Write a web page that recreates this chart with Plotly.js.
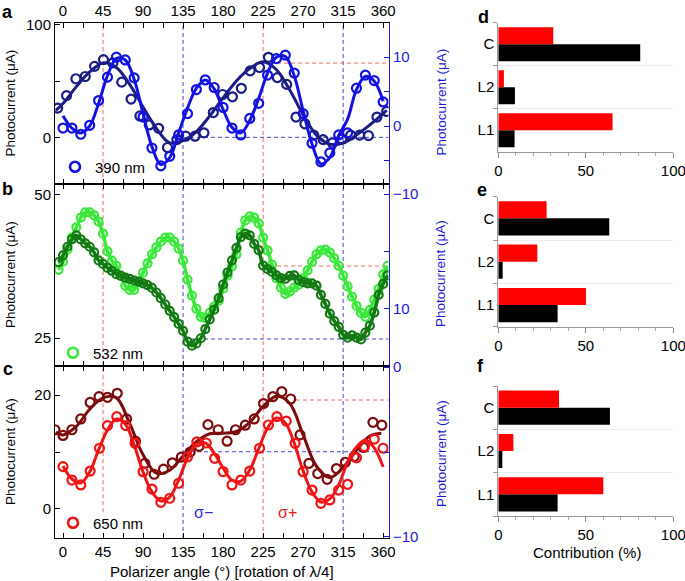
<!DOCTYPE html>
<html><head><meta charset="utf-8">
<script src="https://cdn.plot.ly/plotly-3.0.1.min.js"></script>
<style>html,body{margin:0;padding:0;background:#fff}#chart{width:685px;height:581px}</style>
</head><body><div id="chart"></div>
<script>
// ---------- shared angle ticks ----------
const angleTicks = [0,22.5,45,67.5,90,112.5,135,157.5,180,202.5,225,247.5,270,292.5,315,337.5,360];
const angleLabels = ['0','','45','','90','','135','','180','','225','','270','','315','','360'];

// ---------- panel a : 390 nm ----------
const aNavyX = [-6,4,14.5,25,35.5,45.5,56,66,76.5,86.5,97,107.5,117.5,128,138,148.5,158.5,169,179.5,190.5,200.5,210.5,221,231,241,251.5,262,272,282,292.5,303,313.5,323.5,333.5,343.5,353,364];
const aNavyY = [26,37,52,54,63,69,66,49,34,19,11,8,-9,-2,1,1,4,22,38,36,43.5,59,62,71,53,47,18,12,2,-2,-5,-1.5,2,2,1.5,18,23];
const aNavyFitX = [-8,0,15,30,45,60,75,90,105,120,135,150,165,180,195,210,225,240,255,270,285,300,315,330,345,360,364];
const aNavyFitY = [24,30,45,58,66,62,47,27,8,-5,-3,5,19,35,50,61,67,60,42,20,2,-6,-5,2,11,21,24];
const aBlueX = [0,10,20,30,40,50,60,70,80,90,100,110,120,130,140,150,160,170,180,190,200,210,220,230,240,250,260,270,280,290,300,310,320,330,340,350,360];
const aBlueY = [-0.3,-0.3,-1.2,0.1,3.7,7.1,10.0,9.6,7.0,1.3,-3.2,-5.8,-4.4,-1.3,1.8,5.3,6.7,5.6,2.7,-0.3,-1.3,1.1,3.3,7.4,9.8,10.3,7.7,1.8,-2.5,-5.2,-3.9,-1.3,-1.0,5.5,7.4,6.6,3.5];
const aBlueFitY = [1.5,-0.3,-1.0,0.0,3.3,7.3,9.8,9.6,6.8,1.8,-3.0,-5.6,-4.6,-1.0,2.6,5.5,6.7,5.4,2.4,-0.2,-1.0,0.8,4.0,7.7,10.0,10.1,7.3,2.2,-2.6,-5.5,-4.6,-1.4,1.0,5.3,7.2,6.5,3.6];

// ---------- panel b : 532 nm ----------
const bX = [-5,0,5,10,15,20,25,30,35,40,45,50,55,60,65,70,75,80,85,90,95,100,105,110,115,120,125,130,135,140,145,150,155,160,165,170,175,180,185,190,195,200,205,210,215,220,225,230,235,240,245,250,255,260,265,270,275,280,285,290,295,300,305,310,315,320,325,330,335,340,345,350,355,360,365];
const bLightY = [36.9,38.3,40.4,42.5,44.3,46.0,46.9,46.9,46.4,45.3,43.2,40.1,38.5,37.6,35.9,34.1,33.4,33.4,34.8,36.4,38.0,39.6,40.8,41.8,42.5,42.5,41.8,40.6,38.5,35.2,32.4,30.1,28.7,28.5,29.4,30.5,31.5,33.6,35.9,37.5,39.6,43.4,45.5,46.2,46.0,45.0,42.5,40.3,37.8,35.4,33.8,32.7,33.1,33.8,34.3,35.4,36.8,38.3,39.6,40.3,40.4,39.9,38.9,37.6,35.9,34.0,32.2,30.6,29.4,28.7,29.9,31.7,33.6,36.1,37.6];
const bDarkY = [1.9,0.7,-0.8,-2.1,-2.8,-2.1,-1.4,-0.8,0.2,1.6,2.2,2.9,3.4,4.0,4.3,4.6,4.8,5.1,5.3,5.6,5.9,6.4,7.2,8.2,9.3,10.4,11.5,12.7,13.9,15.8,16.5,16.1,15.2,13.6,11.9,10.2,8.2,5.8,3.7,1.6,-0.6,-2.5,-3.1,-2.8,-1.3,-0.2,2.5,3.1,3.6,4.2,4.7,4.8,4.3,4.2,5.0,5.4,5.6,5.6,6.0,7.6,9.2,10.9,12.2,13.2,14.6,15.1,14.7,15.1,15.4,14.2,13.0,10.7,7.6,5.7,4.2];

// ---------- panel c : 650 nm ----------
const cDarkX = [-9,0,10,20,30.5,40.5,50,61,71.5,81.5,92,102.5,113,123,133,143,153,163,174.5,184.5,194,205,215,225.5,236,246,256,266.5,276.5,286.5,297,307.5,317.5,327.5,338,348.5,358.5];
const cDarkY = [13.9,12.9,13.9,15.8,18.7,19.7,19.6,20.3,15.8,11.9,8.0,6.1,7.0,8.1,9.1,10.0,11.0,14.8,13.9,11.9,13.9,14.7,15.8,18.5,19.7,20.6,19.3,13.0,8.0,6.2,5.2,7.1,8.2,9.2,10.8,15.2,14.7];
const cDarkFitX = [-8,0,15,30,45,60,75,90,105,120,135,150,165,180,195,210,225,240,255,270,285,300,315,330,345,358];
const cDarkFitY = [13.5,13,14.5,17.5,19.5,19.5,15,9.5,6.3,6.8,9.3,11.8,13.2,13.3,13.6,15.2,18,19.8,18.5,13,7.5,5.5,7.3,10.3,12.8,13.3];
const cRedX = [0,10,20,30.5,41,50,60.5,70.5,81,90,100,110,120,130,140,150.5,161,170.5,180,190,200,210,221,231,240.5,251,261,270,280,290,300,310,320,330,339,350,360];
const cRedY = [-5.86,-6.65,-6.94,-6.12,-4.78,-3.45,-2.92,-3.44,-4.49,-6.16,-7.18,-7.96,-7.72,-6.84,-5.29,-4.41,-4.47,-5.37,-6.15,-6.94,-6.65,-6.12,-4.78,-3.41,-2.92,-3.18,-4.49,-6.16,-7.24,-8.02,-7.82,-7.24,-6.90,-5.34,-4.69,-4.24,-4.78];
const cRedFitX = [0,10,20,30,40,50,60,70,80,90,100,110,120,130,140,150,160,170,180,190,200,210,220,230,240,250,260,270,280,290,300,310,320,330,340,350,360];
const cRedFitY = [-5.82,-6.59,-6.82,-6.18,-4.88,-3.71,-3.06,-3.35,-4.59,-6.18,-7.35,-7.88,-7.65,-6.65,-5.35,-4.53,-4.47,-5.06,-5.94,-6.65,-6.71,-6.06,-4.82,-3.59,-3.00,-3.29,-4.47,-6.12,-7.35,-7.94,-7.76,-6.94,-5.59,-4.71,-4.29,-4.76,-5.88];

// ---------- bar panels d, e, f ----------
const barCats = ['L1','L2','C'];
const dRed = [65.3,3.2,31.4];
const dBlack = [9.3,9.5,81.1];
const eRed = [50.1,22.3,27.6];
const eBlack = [33.9,2.5,63.4];
const fRed = [60,8.6,34.7];
const fBlack = [33.9,2.3,63.8];

// ---------- styling ----------
const F = 'Liberation Sans, Arial, Helvetica, sans-serif';
const AXBLUE = '#1a1ad6';
const NAVY = '#1c1c86', BLUE = '#1212e4';
const LGREEN = '#3be83b', DGREEN = '#137a13';
const DRED = '#7c0c0c', RED = '#ef1515';
const W = 685, H = 581;
const px = v => v / W, py = v => 1 - v / H;

function markers(x, y, color, size, xa, ya) {
  return {x, y, type:'scatter', mode:'markers', xaxis:xa, yaxis:ya, showlegend:false, hoverinfo:'skip',
    marker:{symbol:'circle-open', size:size, color:color, line:{width:2.2, color:color}}};
}
function fit(x, y, color, width, xa, ya) {
  return {x, y, type:'scatter', mode:'lines', xaxis:xa, yaxis:ya, showlegend:false, hoverinfo:'skip',
    line:{color:color, width:width, shape:'spline', smoothing:1}};
}
function legendItem(name, color, leg) {
  return {x:[null], y:[null], type:'scatter', mode:'markers', name:name, legend:leg, showlegend:true,
    marker:{symbol:'circle-open', size:10, color:color, line:{width:2.6, color:color}}};
}

const traces = [
  fit(aNavyFitX, aNavyFitY, NAVY, 3, 'x', 'y'),
  markers(aNavyX, aNavyY, NAVY, 9, 'x', 'y'),
  fit(aBlueX, aBlueFitY, BLUE, 3, 'x', 'y2'),
  markers(aBlueX, aBlueY, BLUE, 9, 'x', 'y2'),
  fit(bX, bLightY, LGREEN, 3.5, 'x2', 'y3'),
  markers(bX, bLightY, LGREEN, 8, 'x2', 'y3'),
  fit(bX, bDarkY, DGREEN, 3.5, 'x2', 'y4'),
  markers(bX, bDarkY, DGREEN, 8, 'x2', 'y4'),
  fit(cDarkFitX, cDarkFitY, DRED, 3, 'x3', 'y5'),
  markers(cDarkX, cDarkY, DRED, 9, 'x3', 'y5'),
  fit(cRedFitX, cRedFitY, RED, 3, 'x3', 'y6'),
  markers(cRedX, cRedY, RED, 9, 'x3', 'y6'),
  legendItem('390 nm', BLUE, 'legend'),
  legendItem('532 nm', LGREEN, 'legend2'),
  legendItem('650 nm', RED, 'legend3'),
];
[[dBlack, dRed, 'x4', 'y7'], [eBlack, eRed, 'x5', 'y8'], [fBlack, fRed, 'x6', 'y9']].forEach(([blk, red, xa, ya]) => {
  traces.push({type:'bar', orientation:'h', x:blk, y:barCats, xaxis:xa, yaxis:ya, marker:{color:'#000000', line:{width:0}}, showlegend:false, hoverinfo:'skip'});
  traces.push({type:'bar', orientation:'h', x:red, y:barCats, xaxis:xa, yaxis:ya, marker:{color:'#ff0000', line:{width:0}}, showlegend:false, hoverinfo:'skip'});
});

const xDom = [px(55), px(388.5)];
function angleAxis(anchor, side, showLabels) {
  return {domain:xDom, anchor:anchor, side:side, range:[-9, 366], tickmode:'array', tickvals:angleTicks, ticktext:angleLabels,
    showticklabels:showLabels, ticks:'inside', ticklen:5, tickcolor:'#000', showline:true, linecolor:'#000', linewidth:1,
    mirror:'ticks', zeroline:false, showgrid:false, ticklabeloverflow:'allow', tickfont:{size:15, color:'#000', family:F}};
}
function leftAxis(dom, range, vals, text, xa) {
  return {domain:dom, anchor:xa, range:range, tickmode:'array', tickvals:vals, ticktext:text, ticks:'inside', ticklen:5,
    tickcolor:'#000', showline:true, linecolor:'#000', linewidth:1, zeroline:false, showgrid:false,
    tickfont:{size:15, color:'#000', family:F}};
}
function rightAxis(over, range, vals, text, xa) {
  return {overlaying:over, side:'right', anchor:xa, range:range, tickmode:'array', tickvals:vals, ticktext:text,
    ticks:'inside', ticklen:5, tickcolor:AXBLUE, showline:true, linecolor:AXBLUE, linewidth:1.5, zeroline:false,
    showgrid:false, ticklabeloverflow:'allow', tickfont:{size:15, color:AXBLUE, family:F}};
}
function barX(anchor) {
  return {domain:[px(498.3), px(673.3)], anchor:anchor, range:[0, 100], tickmode:'array', tickvals:[0,50,100],
    ticks:'outside', ticklen:5, tickcolor:'#888', showline:true, linecolor:'#999', linewidth:1, zeroline:false, showgrid:false,
    ticklabeloverflow:'allow',
    minor:{tickmode:'linear', tick0:0, dtick:10, ticks:'outside', ticklen:3, tickcolor:'#aaa', showgrid:false},
    tickfont:{size:15, color:'#000', family:F}};
}
function barY(dom, anchor) {
  return {domain:dom, anchor:anchor, type:'category', categoryorder:'array', categoryarray:barCats, range:[-0.5, 2.5],
    tickson:'boundaries', ticks:'outside', ticklen:4, tickcolor:'#999', showline:true, linecolor:'#999', linewidth:1,
    showgrid:true, gridcolor:'#ebebeb', gridwidth:1, zeroline:false, tickfont:{size:15, color:'#000', family:F}};
}

const layout = {
  width:W, height:H, margin:{l:0, r:0, t:0, b:0}, paper_bgcolor:'#fff', plot_bgcolor:'rgba(0,0,0,0)',
  font:{family:F, size:15, color:'#000'}, barmode:'group', bargap:0.21, bargroupgap:0,
  xaxis: angleAxis('y', 'top', true),
  xaxis2: angleAxis('y3', 'bottom', false),
  xaxis3: angleAxis('y5', 'bottom', true),
  yaxis: leftAxis([py(184), py(23.3)], [-41.4, 101.2], [0,50,100], ['0','','100'], 'x'),
  yaxis2: rightAxis('y', [-8.43, 14.93], [-5,0,5,10], ['','0','','10'], 'x'),
  yaxis3: leftAxis([py(366), py(184)], [20.12, 51.86], [25,50], ['25','50'], 'x2'),
  yaxis4: rightAxis('y3', [20.05, -11.77], [-10,0,10], ['\u221210','','10'], 'x2'),
  yaxis5: leftAxis([py(538), py(366)], [-5.09, 25.09], [0,10,20], ['0','','20'], 'x3'),
  yaxis6: rightAxis('y5', [-10.06, 0.06], [-10,-5,0], ['\u221210','','0'], 'x3'),
  xaxis4: barX('y7'), yaxis7: barY([py(151.7), py(22.7)], 'x4'),
  xaxis5: barX('y8'), yaxis8: barY([py(326.7), py(196.7)], 'x5'),
  xaxis6: barX('y9'), yaxis9: barY([py(516), py(386)], 'x6'),
  legend:  {x:px(55), y:py(167), xanchor:'left', yanchor:'middle', bgcolor:'rgba(0,0,0,0)', font:{size:15, family:F}},
  legend2: {x:px(53), y:py(353), xanchor:'left', yanchor:'middle', bgcolor:'rgba(0,0,0,0)', font:{size:15, family:F}},
  legend3: {x:px(53), y:py(523), xanchor:'left', yanchor:'middle', bgcolor:'rgba(0,0,0,0)', font:{size:15, family:F}},
  shapes: [], annotations: []
};

// reference dashed lines
const RDASH = '#ea6a6a', BDASH = '#4646c8', DSH = '4px,3px';
[['x','y'],['x2','y3'],['x3','y5']].forEach(([xa, ya], i) => {
  [[45, RDASH], [135, BDASH], [225, RDASH], [315, BDASH]].forEach(([v, c]) => {
    const y0 = (i === 2 && v === 45) ? 0.15 : 0;
    layout.shapes.push({type:'line', xref:xa, yref:ya + ' domain', x0:v, x1:v, y0:y0, y1:1, layer:'below', line:{color:c, width:1, dash:DSH}});
  });
});
[['x','y',65.9,225,RDASH],['x','y',0,135,BDASH],['x2','y3',37.56,225,RDASH],['x2','y3',24.83,135,BDASH],['x3','y5',19.12,262,RDASH],['x3','y5',10.05,135,BDASH]]
  .forEach(([xa, ya, yv, x0, c]) => layout.shapes.push({type:'line', xref:xa, yref:ya, x0:x0, x1:366, y0:yv, y1:yv, layer:'below', line:{color:c, width:1, dash:DSH}}));

// text
const ann = (x, y, text, opt) => layout.annotations.push(Object.assign({xref:'paper', yref:'paper', x:px(x), y:py(y), text:text, showarrow:false, xanchor:'center', yanchor:'middle', font:{size:15, family:F, color:'#000'}}, opt || {}));
ann(8, 12, '<b>a</b>', {font:{size:18, family:F}});
ann(8, 189, '<b>b</b>', {font:{size:18, family:F}});
ann(8, 369, '<b>c</b>', {font:{size:18, family:F}});
ann(483, 17, '<b>d</b>', {font:{size:18, family:F}});
ann(482, 190, '<b>e</b>', {font:{size:18, family:F}});
ann(480, 366, '<b>f</b>', {font:{size:18, family:F}});
[[103.5, 102.5], [275, 274], [452, 454]].forEach(([yl, yr]) => {
  ann(10, yl, 'Photocurrent (\u03bcA)', {textangle:-90, font:{size:13.5, family:F, color:'#000'}});
  ann(441, yr, 'Photocurrent (\u03bcA)', {textangle:-90, font:{size:13.5, family:F, color:AXBLUE}});
});
ann(222, 571, 'Polarizer angle (\u00b0) [rotation of \u03bb/4]');
ann(587, 552, 'Contribution (%)');
layout.annotations.push({xref:'x3', yref:'paper', x:158.5, y:py(523), text:'\u03c3\u2212', showarrow:false, font:{size:16, family:F, color:'#2a2ad0'}});
layout.annotations.push({xref:'x3', yref:'paper', x:252.5, y:py(523), text:'\u03c3+', showarrow:false, font:{size:16, family:F, color:'#e02020'}});

Plotly.newPlot('chart', traces, layout, {staticPlot:true, displayModeBar:false});
</script></body></html>
